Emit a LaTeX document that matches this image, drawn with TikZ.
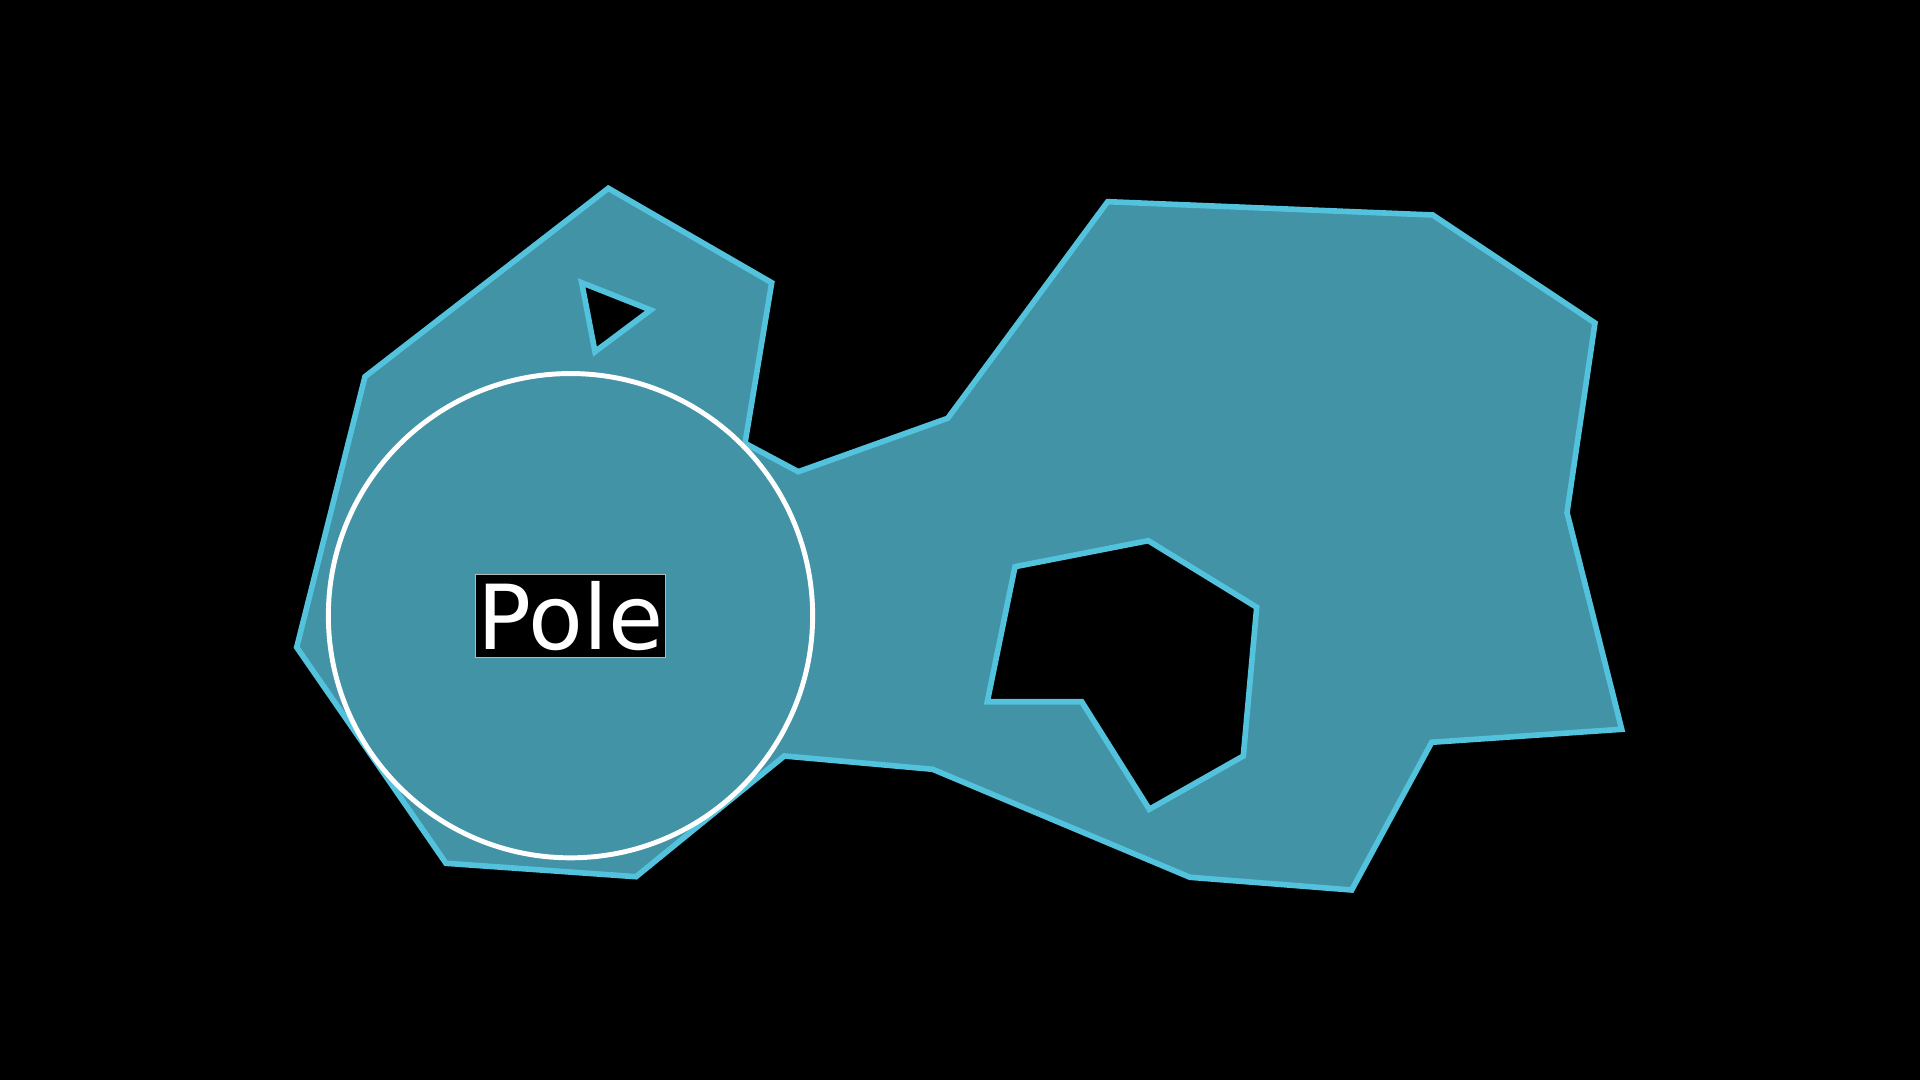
\documentclass[tikz,border=0pt]{standalone}
\usepackage{fontspec}
\setmainfont{DejaVu Sans}
\definecolor{regionteal}{RGB}{67,147,167}
\definecolor{regionedge}{RGB}{82,194,221}
\definecolor{labelframe}{RGB}{185,185,185}
\usetikzlibrary{positioning}

\begin{document}
\begin{tikzpicture}[x=0.01cm, y=-0.01cm,
    region/.style={draw=regionedge, line width=1.6pt, fill=regionteal, even odd rule},
    polecircle/.style={circle, draw=white, line width=1.4pt, inner sep=0pt, minimum size=4.84cm},
    polelabel/.style={fill=black, draw=labelframe, line width=0.3pt, inner sep=0pt,
        minimum width=1.9cm, minimum height=0.83cm, text=white, font=\fontsize{25.5}{30}\selectfont}]
    \fill[black] (0,0) rectangle (1920,1080);
    \path[region]
        (608.3,188.3) -- (771.7,282.7) -- (745,443.3) -- (798.3,471.7) -- (947.7,418.3)
        -- (1107.7,201.7) -- (1432.7,215) -- (1595,323) -- (1567,512.5) -- (1621.7,729.3)
        -- (1431.7,742.3) -- (1351.7,890) -- (1190,877.3) -- (932.7,769.3) -- (784.3,756)
        -- (636,876.7) -- (446,863.3) -- (296.7,647.3) -- (365,376.7) -- cycle
        (581.7,282.7) -- (650.7,310) -- (595,351.7) -- cycle
        (1015,566.7) -- (1148.3,540.7) -- (1256.7,607.3) -- (1243.3,756) -- (1149.3,809.3)
        -- (1081.7,701.7) -- (987.3,701.7) -- cycle;
    \node[polecircle] (pole) at (570.5,615.7) {};
    \node[polelabel] (poletext) at (pole.center) {Pole};
\end{tikzpicture}
\end{document}
